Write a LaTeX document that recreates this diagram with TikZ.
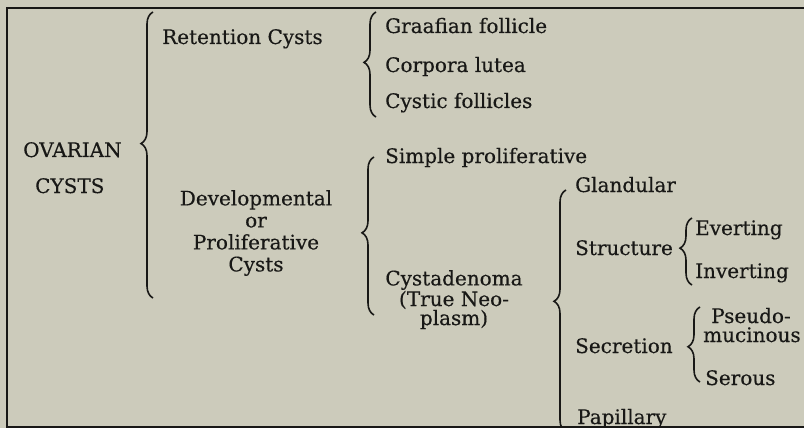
\documentclass[tikz,border=0pt]{standalone}
\usepackage{fontspec}
\setmainfont{DejaVu Serif}[RawFeature={embolden=0.4}]
\usetikzlibrary{decorations.pathreplacing}
\definecolor{paper}{RGB}{204,203,187}
\definecolor{ink}{RGB}{24,24,22}

\begin{document}
\begin{tikzpicture}[x=1pt, y=-1pt,
    every node/.style={inner sep=0pt, text=ink, font=\fontsize{20}{22}\selectfont},
    lbl/.style={anchor=base west},
    stack/.style={anchor=north, align=center},
    clasp/.style={draw=ink, line width=1.6pt, decorate,
        decoration={brace, amplitude=12pt, aspect=#1}},
    clasp/.default=0.5,
    frame/.style={draw=ink, line width=2pt}]
    \fill[paper] (0,0) rectangle (804,428);
    \useasboundingbox (0,0) rectangle (804,428);
    \draw[frame] (804,8) -| (7,427) -- (804,427);

    % first level
    \node[lbl] (ovarian) at (23,157) {OVARIAN};
    \node[lbl] (cysts) at (35,193) {CYSTS};
    \node[lbl] (retention) at (162,44) {Retention Cysts};
    \node[stack, font=\fontsize{20}{22}\selectfont] (develop) at (256,190)
        {Developmental\\or\\Proliferative\\Cysts};

    % second level
    \node[lbl] (graafian) at (385,33) {Graafian follicle};
    \node[lbl] (lutea) at (385,72) {Corpora lutea};
    \node[lbl] (cystic) at (385,108) {Cystic follicles};
    \node[lbl] (simple) at (385,163) {Simple proliferative};
    \node[stack, font=\fontsize{20}{19}\selectfont] (cystaden) at (454,270)
        {Cystadenoma\\(True Neo-\\plasm)};

    % third level
    \node[lbl] (glandular) at (575,192) {Glandular};
    \node[lbl] (structure) at (575,255) {Structure};
    \node[lbl] (secretion) at (575,353) {Secretion};
    \node[lbl] (papillary) at (577,424) {Papillary};
    \node[lbl] (everting) at (695,235) {Everting};
    \node[lbl] (inverting) at (695,278) {Inverting};
    \node[anchor=base] (pseudo) at (751,323) {Pseudo-};
    \node[lbl] (mucinous) at (703,342) {mucinous};
    \node[lbl] (serous) at (705,385) {Serous};

    % brace ends
    \coordinate (ov-bot) at (153,298);
    \coordinate (ov-top) at (153,12);
    \coordinate (ret-bot) at (376,117);
    \coordinate (ret-top) at (376,12);
    \coordinate (dev-bot) at (374,315);
    \coordinate (dev-top) at (374,157);
    \coordinate (cys-bot) at (566,432);
    \coordinate (cys-top) at (566,190);
    \coordinate (str-bot) at (692,285);
    \coordinate (str-top) at (692,218);
    \coordinate (sec-bot) at (700,382);
    \coordinate (sec-top) at (700,307);

    \draw[clasp=0.54] (ov-bot) -- (ov-top);
    \draw[clasp=0.52] (ret-bot) -- (ret-top);
    \draw[clasp=0.52] (dev-bot) -- (dev-top);
    \draw[clasp=0.54] (cys-bot) -- (cys-top);
    \draw[clasp=0.55] (str-bot) -- (str-top);
    \draw[clasp=0.47] (sec-bot) -- (sec-top);
\end{tikzpicture}
\end{document}
